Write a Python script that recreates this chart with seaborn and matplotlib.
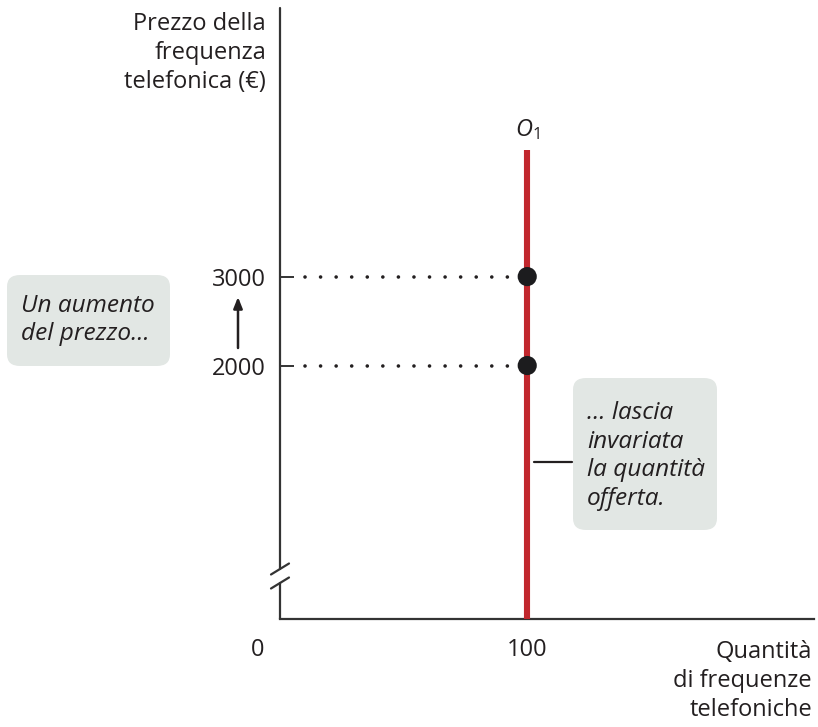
import matplotlib
matplotlib.use("Agg")
import matplotlib.pyplot as plt
from matplotlib.patches import FancyBboxPatch
from matplotlib.lines import Line2D
import seaborn as sns
import pandas as pd

# --- data -------------------------------------------------------------
supply_quantity = [100, 100]          # vertical supply curve O1
supply_price = [-850, 4420]
point_quantity = [100, 100]
point_price = [2000, 3000]
price_ticks = [2000, 3000]
price_tick_labels = ["2000", "3000"]
quantity_ticks = [100]
quantity_tick_labels = ["100"]

sns.set_theme(style="white")
plt.rcParams["font.family"] = ["Open Sans", "DejaVu Sans"]
plt.rcParams["mathtext.fontset"] = "custom"
plt.rcParams["mathtext.rm"] = "Open Sans"
plt.rcParams["mathtext.it"] = "Open Sans:italic"

W, H = 818, 727
TEXT = "#231f20"
AXIS = "#333333"
RED = "#c1272d"
BOX = "#e2e7e4"
FS = 17
FS_IT = 17.6


def fx(x):
    return x / W


def fy(y):
    return 1 - y / H


fig = plt.figure(figsize=(W / 100, H / 100), dpi=100)
ax = fig.add_axes([fx(280), fy(619), (814 - 280) / W, (619 - 8) / H])
ax.set_xlim(0, 216)
ax.set_ylim(-850, 6020)

supply = pd.DataFrame({"q": supply_quantity, "p": supply_price})
pts = pd.DataFrame({"q": point_quantity, "p": point_price})

# dotted guides from the price axis to the curve
for p in point_price:
    ax.plot([10, 100], [p, p], color=TEXT, lw=2.6,
            linestyle=(0, (0.01, 4.3)), dash_capstyle="round", zorder=2)

sns.lineplot(data=supply, x="q", y="p", color=RED, lw=4.4, ax=ax,
             estimator=None, sort=False, zorder=3, solid_capstyle="butt")
sns.scatterplot(data=pts, x="q", y="p", color="#1c1c1e", s=190,
                edgecolor="none", ax=ax, zorder=4)

ax.set_xlabel("")
ax.set_ylabel("")

# axes: bottom spine plus a broken left spine
for side in ("top", "right", "left"):
    ax.spines[side].set_visible(False)
ax.spines["bottom"].set_color(AXIS)
ax.spines["bottom"].set_linewidth(1.6)

ax.set_xticks(quantity_ticks)
ax.set_xticklabels(quantity_tick_labels)
ax.set_yticks(price_ticks)
ax.set_yticklabels(price_tick_labels)
ax.tick_params(axis="x", length=0, pad=14, labelsize=FS, labelcolor=TEXT)
ax.tick_params(axis="y", direction="in", length=10, width=1.4, color=AXIS,
               pad=10, labelsize=FS, labelcolor=TEXT, left=True)

t = ax.transAxes
ya = (619 - 569) / 611
yb = (619 - 583) / 611
ax.add_line(Line2D([0, 0], [ya, 1], transform=t, color=AXIS, lw=1.6, clip_on=False))
ax.add_line(Line2D([0, 0], [0, yb], transform=t, color=AXIS, lw=1.6, clip_on=False))
dx, dy = 9 / 534, 5.5 / 611
for yc in (ya, yb):
    ax.add_line(Line2D([-dx, dx], [yc - dy, yc + dy], transform=t,
                       color=AXIS, lw=1.6, clip_on=False))

# origin label
fig.text(fx(258), fy(650), "0", ha="center", va="center", fontsize=FS, color=TEXT)

# axis titles
fig.text(fx(266), fy(53), "Prezzo della\nfrequenza\ntelefonica (€)", ha="right",
         va="center", fontsize=FS, color=TEXT, linespacing=1.3)
fig.text(fx(812), fy(681), "Quantità\ndi frequenze\ntelefoniche", ha="right",
         va="center", fontsize=FS, color=TEXT, linespacing=1.3)

# curve label
fig.text(fx(527), fy(130), r"$\mathit{O}_{1}$", ha="center", va="center",
         fontsize=FS, color=TEXT)

# callout boxes
fig.patches.append(FancyBboxPatch((fx(7), fy(366)), fx(170 - 7), (366 - 275) / H,
                                  boxstyle="round,pad=0,rounding_size=0.016",
                                  transform=fig.transFigure, facecolor=BOX,
                                  edgecolor="none", zorder=0))
fig.text(fx(21), fy(320), "Un aumento\ndel prezzo…", ha="left", va="center",
         fontsize=FS_IT, style="italic", color=TEXT, linespacing=1.25)

fig.patches.append(FancyBboxPatch((fx(573), fy(530)), fx(717 - 573), (530 - 378) / H,
                                  boxstyle="round,pad=0,rounding_size=0.016",
                                  transform=fig.transFigure, facecolor=BOX,
                                  edgecolor="none", zorder=0))
fig.text(fx(587), fy(456), "… lascia\ninvariata\nla quantità\nofferta.", ha="left",
         va="center", fontsize=FS_IT, style="italic", color=TEXT, linespacing=1.25)

# connector from the curve to the right-hand box
fig.lines.append(Line2D([fx(534), fx(572)], [fy(462), fy(462)],
                        transform=fig.transFigure, color=TEXT, lw=1.6))

# upward arrow between the two price labels
ax.annotate("", xy=(fx(238), fy(297)), xytext=(fx(238), fy(348)),
            xycoords="figure fraction", textcoords="figure fraction",
            arrowprops=dict(arrowstyle="-|>,head_length=0.55,head_width=0.22",
                            color=TEXT, lw=1.8, shrinkA=0, shrinkB=0))

fig.savefig("out.png", dpi=100)
